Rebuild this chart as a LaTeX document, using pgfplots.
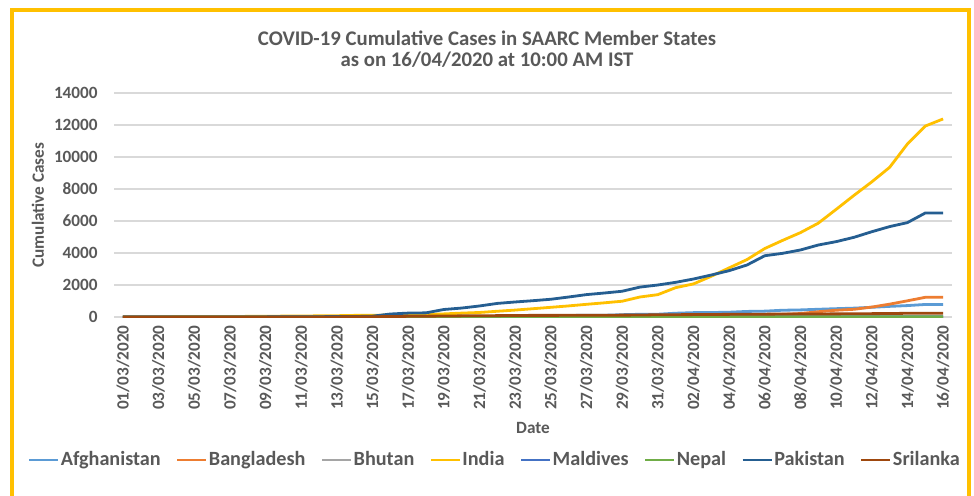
\documentclass[border=0pt]{standalone}
\usepackage{pgfplots}
\pgfplotsset{compat=1.18}
\usepackage{pgfplotstable}
\usepackage{fontspec}
\setmainfont{Carlito}

\definecolor{afg}{HTML}{5B9BD5}
\definecolor{ban}{HTML}{ED7D31}
\definecolor{bhu}{HTML}{A5A5A5}
\definecolor{ind}{HTML}{FFC000}
\definecolor{mal}{HTML}{4472C4}
\definecolor{nep}{HTML}{70AD47}
\definecolor{pak}{HTML}{255E91}
\definecolor{sri}{HTML}{9E480E}
\definecolor{txt}{HTML}{595959}
\definecolor{grd}{HTML}{D9D9D9}
\definecolor{frm}{HTML}{FFC000}

\newcommand{\tickfont}{\bfseries\fontsize{8.6}{10}\selectfont}

% day index 0 = 01/03/2020 ... 46 = 16/04/2020
\pgfplotstableread{
i  afg  ban   bhu ind    mal nep pak   sri
0  1    0     0   3      0   1   4     1
1  1    0     0   5      0   1   4     1
2  1    0     0   5      0   1   5     1
3  1    0     0   28     0   1   5     1
4  1    0     0   30     0   1   5     1
5  1    0     1   31     0   1   6     1
6  1    0     1   34     0   1   6     1
7  4    3     1   39     2   1   6     1
8  4    3     1   43     4   1   6     1
9  5    3     1   56     6   1   16    1
10 7    3     1   62     6   1   19    1
11 7    3     1   73     6   1   20    2
12 7    3     1   82     8   1   28    6
13 11   3     1   102    9   1   31    10
14 16   5     1   113    13  1   53    18
15 21   8     1   119    13  1   187   28
16 22   10    1   142    13  1   245   43
17 22   14    1   156    13  1   260   53
18 22   17    1   194    13  1   470   60
19 24   20    2   244    13  1   560   73
20 24   24    2   283    13  1   690   77
21 40   27    2   360    13  1   850   86
22 40   33    2   433    13  2   940   97
23 74   39    2   519    13  2   1020  102
24 84   39    3   606    13  3   1110  102
25 94   44    3   694    13  3   1250  106
26 110  48    3   793    16  4   1400  106
27 110  48    4   887    17  5   1500  113
28 145  48    4   987    17  5   1610  117
29 170  49    4   1251   17  5   1870  122
30 174  51    4   1397   17  5   2000  143
31 237  54    5   1834   18  5   2167  146
32 273  56    5   2069   19  6   2375  151
33 281  61    5   2547   19  6   2625  159
34 299  70    5   3072   19  9   2896  166
35 349  88    5   3588   19  9   3250  176
36 367  123   5   4281   19  9   3830  178
37 423  164   5   4789   19  9   3980  185
38 444  218   5   5274   19  9   4190  189
39 484  330   5   5865   19  9   4500  190
40 521  424   5   6725   19  9   4710  197
41 555  482   5   7600   19  9   4980  199
42 607  621   5   8446   19  9   5330  210
43 665  803   5   9352   19  12  5650  217
44 714  1012  5   10815  19  14  5900  233
45 784  1231  5   11933  20  16  6500  236
46 784  1231  5   12380  20  16  6500  238
}\cases

\begin{document}
\begin{tikzpicture}[x=1pt,y=1pt]
  \useasboundingbox[fill=white] (0,0) rectangle (487,247.5);
  \draw[overlay, frm, line width=2pt] (6,-10) rectangle (484.5,242.5);
  \node[text=txt, font=\bfseries\fontsize{10.4}{12}\selectfont] at (243.5,228.5)
    {COVID-19 Cumulative Cases in SAARC Member States};
  \node[text=txt, font=\bfseries\fontsize{10.4}{12}\selectfont] at (243.5,217.5)
    {as on 16/04/2020 at 10:00 AM IST};
  \begin{axis}[
      at={(57pt,89pt)}, anchor=south west,
      scale only axis,
      width=419pt, height=112pt,
      xmin=-0.5, xmax=46.5,
      ymin=0, ymax=14000,
      ytick={0,2000,...,14000},
      xtick={0,2,...,46},
      xticklabels={01/03/2020,03/03/2020,05/03/2020,07/03/2020,09/03/2020,11/03/2020,
        13/03/2020,15/03/2020,17/03/2020,19/03/2020,21/03/2020,23/03/2020,25/03/2020,
        27/03/2020,29/03/2020,31/03/2020,02/04/2020,04/04/2020,06/04/2020,08/04/2020,
        10/04/2020,12/04/2020,14/04/2020,16/04/2020},
      axis line style={draw=none},
      major tick length=0pt,
      ymajorgrids,
      major grid style={grd, line width=0.75pt},
      scaled y ticks=false,
      /pgf/number format/.cd, 1000 sep={}, assume math mode=true,
      /pgfplots/.cd,
      y tick label style={font=\tickfont, text=txt, anchor=east, inner sep=0pt, xshift=-8pt},
      x tick label style={font=\tickfont, text=txt, yshift=-4pt, rotate=90, anchor=east, inner sep=0pt},
      xlabel={Date},
      ylabel={Cumulative Cases},
      xlabel style={font=\tickfont, text=txt, at={(axis description cs:0.5,-0.4955)}, anchor=center},
      ylabel style={font=\tickfont, text=txt, at={(axis description cs:-0.0907,0.5)}, anchor=center},
      legend columns=8,
      legend style={at={(0.454,-0.638)}, anchor=center, draw=none, fill=none,
        font=\bfseries\fontsize{10.1}{12}\selectfont, text=txt,
        /tikz/every even column/.append style={column sep=7pt},
        nodes={inner sep=0.6pt}},
      legend image code/.code={\draw[#1] (0pt,0pt) -- (14.5pt,0pt);},
      every axis plot/.append style={line width=1.4pt, line join=round, no marks},
    ]
    \addplot[afg] table[x=i, y=afg] {\cases};
    \addlegendentry{Afghanistan}
    \addplot[ban] table[x=i, y=ban] {\cases};
    \addlegendentry{Bangladesh}
    \addplot[bhu] table[x=i, y=bhu] {\cases};
    \addlegendentry{Bhutan}
    \addplot[ind] table[x=i, y=ind] {\cases};
    \addlegendentry{India}
    \addplot[mal] table[x=i, y=mal] {\cases};
    \addlegendentry{Maldives}
    \addplot[nep] table[x=i, y=nep] {\cases};
    \addlegendentry{Nepal}
    \addplot[pak] table[x=i, y=pak] {\cases};
    \addlegendentry{Pakistan}
    \addplot[sri] table[x=i, y=sri] {\cases};
    \addlegendentry{Srilanka}
  \end{axis}
\end{tikzpicture}
\end{document}
